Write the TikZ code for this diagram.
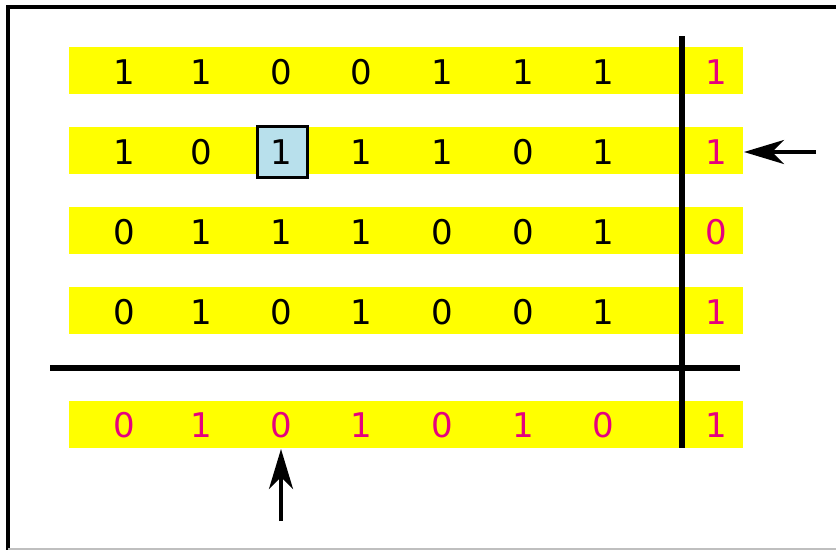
\documentclass[tikz,border=0pt]{standalone}
\usepackage{fontspec}
\setmainfont{DejaVu Sans}
\usetikzlibrary{arrows.meta}
\definecolor{bandy}{RGB}{255,255,0}
\definecolor{mag}{RGB}{230,0,126}
\definecolor{boxblue}{RGB}{184,224,236}
\tikzset{
  band/.style={fill=bandy, draw=none, minimum width=674pt, minimum height=47pt, inner sep=0pt},
  dig/.style={font=\fontsize{34}{34}\selectfont, inner sep=0pt, text=black},
  pdig/.style={dig, text=mag},
  sel/.style={draw=black, line width=3pt, fill=boxblue, minimum width=50pt, minimum height=51pt, inner sep=0pt},
  rule/.style={line width=5.5pt, black},
  arr/.style={line width=4pt, -{Stealth[length=40pt, width=24pt, inset=12pt]}},
}
\begin{document}
\begin{tikzpicture}[x=1pt, y=-1pt]
\useasboundingbox (0,0) rectangle (836,550);
% frame
\draw[line width=3.5pt] (836,7) -- (8,7) -- (8,550);
\draw[line width=1.5pt, black!25] (8,549) -- (836,549);
% bands
\foreach \r/\y in {1/70.5, 2/150.5, 3/230.5, 4/310.5, 5/424} {
  \node[band] (r\r) at (406,\y) {};
}
% highlighted cell
\node[sel] (sel) at (282,152) {};
% digits
\def\colx#1{\ifcase#1\or124\or201\or281\or361\or442\or523\or603\fi}
\foreach [count=\i] \d in {1,1,0,0,1,1,1} { \node[dig] (c1\i) at (\colx{\i},72) {\d}; }
\foreach [count=\i] \d in {1,0,1,1,1,0,1} { \node[dig] (c2\i) at (\colx{\i},152) {\d}; }
\foreach [count=\i] \d in {0,1,1,1,0,0,1} { \node[dig] (c3\i) at (\colx{\i},232) {\d}; }
\foreach [count=\i] \d in {0,1,0,1,0,0,1} { \node[dig] (c4\i) at (\colx{\i},312) {\d}; }
\foreach [count=\i] \d in {0,1,0,1,0,1,0} { \node[pdig] (c5\i) at (\colx{\i},425) {\d}; }
\node[pdig] (p1) at (716,72) {1};
\node[pdig] (p2) at (716,152) {1};
\node[pdig] (p3) at (716,232) {0};
\node[pdig] (p4) at (716,312) {1};
\node[pdig] (p5) at (716,425) {1};
% rules
\coordinate (vt) at (682,36);
\coordinate (vb) at (682,448);
\coordinate (hl) at (50,368);
\coordinate (hr) at (740,368);
\draw[rule] (vt) -- (vb);
\draw[rule] (hl) -- (hr);
% arrows
\coordinate (ra) at (816,152);
\coordinate (rt) at (744,152);
\coordinate (ba) at (281,521);
\coordinate (bt) at (281,449);
\draw[arr] (ra) -- (rt);
\draw[arr] (ba) -- (bt);
\end{tikzpicture}
\end{document}
